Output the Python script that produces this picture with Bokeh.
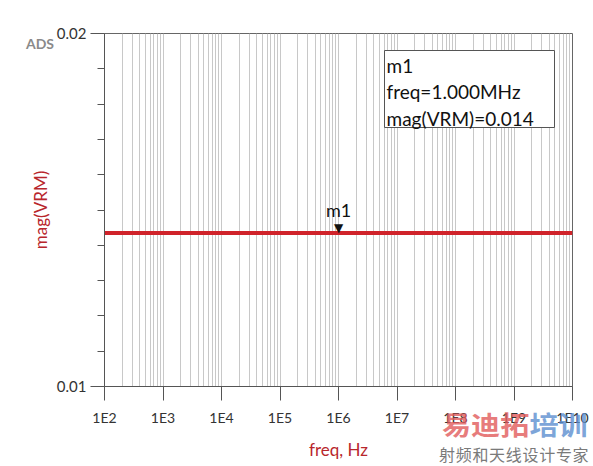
from bokeh.plotting import figure
from bokeh.models import FixedTicker, CustomJSTickFormatter, Label, BoxAnnotation, Div
from bokeh.layouts import column
from bokeh.core.properties import value
from bokeh.embed import file_html
from bokeh.resources import INLINE

# ---- data ----
freq = [1e2, 1e10]
mag_vrm = [0.01435, 0.01435]
m1_freq = [1e6]
m1_mag = [0.01435]
x_major = [1e2, 1e3, 1e4, 1e5, 1e6, 1e7, 1e8, 1e9, 1e10]
x_minor = [k * 10.0 ** n for n in range(2, 10) for k in range(2, 10)]
y_major = [0.01, 0.02]
y_minor = [0.011, 0.012, 0.013, 0.014, 0.015, 0.016, 0.017, 0.018, 0.019]
marker_lines = "m1\nfreq=1.000MHz\nmag(VRM)=0.014"
tool_tag = "ADS"
wm_red = "易迪拓"
wm_blue = "培训"
wm_sub = "射频和天线设计专家"

RED = "#d0232a"
LABEL_RED = "#b8262c"
FONT = "Lato"

p = figure(x_axis_type="log", x_range=(1e2, 1e10), y_range=(0.01, 0.02),
           frame_width=468, frame_height=353,
           min_border_left=104, min_border_right=21, min_border_top=33, min_border_bottom=80,
           output_backend="svg", toolbar_location=None)
p.background_fill_color = "white"
p.border_fill_color = "white"
p.outline_line_color = "#666666"

# x axis
p.xaxis.ticker = FixedTicker(ticks=x_major, minor_ticks=x_minor)
p.xaxis.formatter = CustomJSTickFormatter(code="return '1E' + Math.round(Math.log10(tick));")
p.xaxis.major_tick_out = 14
p.xaxis.major_tick_in = 0
p.xaxis.minor_tick_line_color = None
p.xaxis.axis_line_color = "#555555"
p.xaxis.major_tick_line_color = "#555555"
p.xaxis.major_label_text_font = FONT
p.xaxis.major_label_text_font_size = "14px"
p.xaxis.major_label_text_color = "#333333"
p.xaxis.major_label_standoff = 8
p.xaxis.axis_label = "freq, Hz"
p.xaxis.axis_label_text_font = FONT
p.xaxis.axis_label_text_font_style = "normal"
p.xaxis.axis_label_text_font_size = "17px"
p.xaxis.axis_label_text_color = LABEL_RED
p.xaxis.axis_label_standoff = 10

# y axis
p.yaxis.ticker = FixedTicker(ticks=y_major, minor_ticks=y_minor)
p.yaxis.formatter = CustomJSTickFormatter(code="return tick.toFixed(2);")
p.yaxis.major_tick_out = 14
p.yaxis.major_tick_in = 0
p.yaxis.minor_tick_out = 7
p.yaxis.minor_tick_in = 0
p.yaxis.axis_line_color = "#555555"
p.yaxis.major_tick_line_color = "#555555"
p.yaxis.minor_tick_line_color = "#555555"
p.yaxis.major_label_text_font = FONT
p.yaxis.major_label_text_font_size = "15px"
p.yaxis.major_label_text_color = "#333333"
p.yaxis.major_label_standoff = 4
p.yaxis.axis_label = "mag(VRM)"
p.yaxis.axis_label_text_font = FONT
p.yaxis.axis_label_text_font_style = "normal"
p.yaxis.axis_label_text_font_size = "17px"
p.yaxis.axis_label_text_color = LABEL_RED
p.yaxis.axis_label_standoff = 3

# grids
p.ygrid.grid_line_color = None
p.xgrid.grid_line_color = "#c8c8c8"
p.xgrid.minor_grid_line_color = "#c8c8c8"
p.xgrid.grid_line_width = 1
p.xgrid.minor_grid_line_width = 1

# data line
p.line(freq, mag_vrm, line_color=RED, line_width=4)

# marker
p.text(x=m1_freq, y=m1_mag, text=["\u25BC"], text_font=value("DejaVu Sans"),
       text_font_size="12px", text_align="center", text_baseline="bottom",
       y_offset=2, text_color="#111111")
p.text(x=m1_freq, y=m1_mag, text=["m1"], text_font=value(FONT),
       text_font_size="18px", text_align="center", text_baseline="bottom",
       y_offset=-12, text_color="#111111")

# marker readout box
p.add_layout(BoxAnnotation(left=280, right=450, top=336, bottom=259,
                           left_units="screen", right_units="screen",
                           top_units="screen", bottom_units="screen",
                           fill_color="white", fill_alpha=1.0,
                           line_color="#555555", line_width=1, line_alpha=1.0))
p.add_layout(Label(x=282, y=333, x_units="screen", y_units="screen", text=marker_lines,
                   text_font=FONT, text_font_size="19px", text_color="#111111",
                   text_align="left", text_baseline="top", text_line_height=1.16))

# texts that lie outside the plot frame (tool tag, watermark): HTML overlay
overlay_html = f"""
<div style="position:relative;width:593px;height:466px;pointer-events:none;">
  <span style="position:absolute;left:26px;top:37px;font-family:Lato;font-weight:bold;
               font-size:14px;line-height:1;color:#8a8a8a;white-space:nowrap;">{tool_tag}</span>
  <span style="position:absolute;left:442px;top:411px;font-family:'Noto Sans CJK SC';font-weight:bold;
               font-size:26px;line-height:1;white-space:nowrap;transform:scaleX(1.12);
               transform-origin:left top;opacity:0.8;"><span style="color:#e25c5c;">{wm_red}</span><span
               style="color:#5d8fd0;">{wm_blue}</span></span>
  <span style="position:absolute;left:439px;top:446px;font-family:'Noto Sans CJK SC';
               font-size:16px;line-height:1;letter-spacing:0.7px;white-space:nowrap;
               color:#7a7a7a;">{wm_sub}</span>
</div>
"""
overlay = Div(text=overlay_html, width=593, height=466, margin=(-466, 0, 0, 0))

layout = column(p, overlay, spacing=0)

open("out.html", "w").write(file_html(layout, INLINE))
